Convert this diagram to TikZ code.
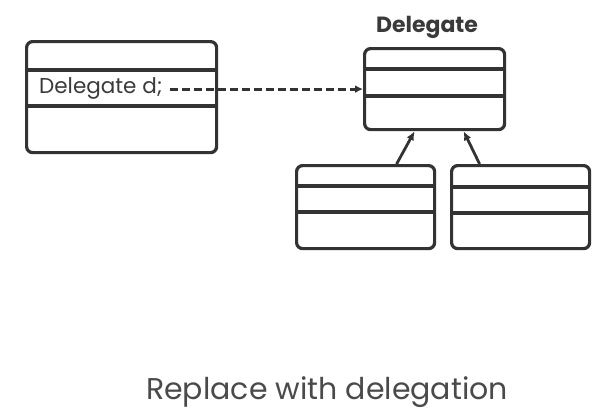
\documentclass[tikz,border=0pt]{standalone}
\usepackage{fontspec}
\setmainfont{Poppins}
\usetikzlibrary{positioning,arrows.meta}
\definecolor{linegray}{HTML}{333333}
\definecolor{textgray}{HTML}{3A3A3A}
\definecolor{captiongray}{HTML}{4A4A4A}

\tikzset{
  classbox/.style={draw=linegray, line width=3.2pt, rounded corners=6pt,
    anchor=north west, inner sep=0pt},
  divider/.style={draw=linegray, line width=3.2pt},
  extends/.style={draw=linegray, line width=2.8pt, -{Latex[length=9pt,width=8pt]}},
  uses/.style={draw=linegray, line width=2.8pt, dash pattern=on 8pt off 4pt,
    -{Latex[length=8pt,width=8pt]}}
}

\begin{document}
\begin{tikzpicture}[x=1pt, y=-1pt, every node/.style={text=textgray}]
    \useasboundingbox (0,0) rectangle (604,415);
    % client class
    \node[classbox, minimum width=190pt, minimum height=111pt] (client) at (25,40) {};
    \draw[divider] (client.west |- 0,70) -- (client.east |- 0,70);
    \draw[divider] (client.west |- 0,106) -- (client.east |- 0,106);
    \node[anchor=west, inner sep=2pt, font=\fontsize{21.5}{25}\selectfont] (field) at (37,88) {Delegate d;};
    % delegate class
    \node[classbox, minimum width=140pt, minimum height=81pt] (del) at (363,47) {};
    \draw[divider] (del.west |- 0,69) -- (del.east |- 0,69);
    \draw[divider] (del.west |- 0,96) -- (del.east |- 0,96);
    \node[font=\bfseries\fontsize{22}{26}\selectfont] (deltitle) at (427,27) {Delegate};
    % subclasses
    \node[classbox, minimum width=138pt, minimum height=83pt] (subA) at (295,164) {};
    \draw[divider] (subA.west |- 0,186) -- (subA.east |- 0,186);
    \draw[divider] (subA.west |- 0,212) -- (subA.east |- 0,212);
    \node[classbox, minimum width=138pt, minimum height=83pt] (subB) at (450,164) {};
    \draw[divider] (subB.west |- 0,187) -- (subB.east |- 0,187);
    \draw[divider] (subB.west |- 0,213) -- (subB.east |- 0,213);
    % connectors
    \draw[uses] ([xshift=5pt]field.east |- del.west) -- (del.west);
    \draw[extends] ([xshift=31pt]subA.north) -- ([xshift=-20pt]del.south);
    \draw[extends] ([xshift=-41pt]subB.north) -- ([xshift=29pt]del.south);
    % caption
    \node[text=captiongray, font=\fontsize{30}{36}\selectfont] (caption) at (327,392) {Replace with delegation};
\end{tikzpicture}
\end{document}
